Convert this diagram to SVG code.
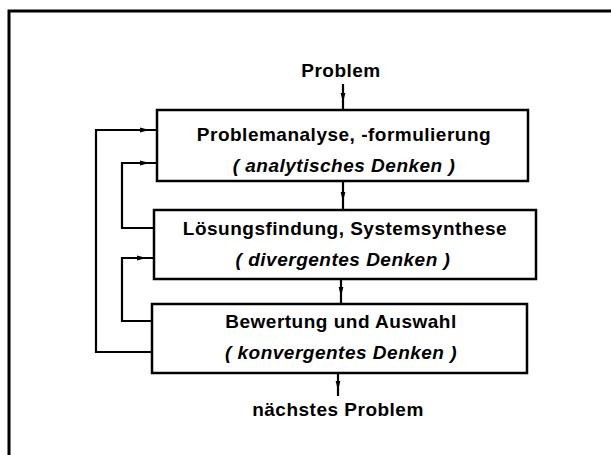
<svg xmlns="http://www.w3.org/2000/svg" xmlns:xlink="http://www.w3.org/1999/xlink" width="611" height="455" viewBox="0 0 611 455">
  <style>
    .frame { fill: none; stroke: #000; stroke-width: 3; }
    .box { fill: #fff; stroke: #000; stroke-width: 2.5; }
    .wire { fill: none; stroke: #000; stroke-width: 2.2; }
    .t { font-family: "Liberation Sans", Arial, sans-serif; font-weight: bold; font-size: 19px; letter-spacing: 0.5px; fill: #000; text-anchor: middle; }
    .i { font-style: italic; }
  </style>
  <defs>
    <!-- small arrowhead pointing along +x, placed on the lines -->
    <path id="ah" d="M-5,-2.4 L4.5,0 L-5,2.4 Z" fill="#000"/>
  </defs>

  <!-- page frame -->
  <path class="frame" d="M9,455 V11 H611"/>

  <g id="connectors">
    <!-- main flow -->
    <line class="wire" x1="343" y1="84" x2="343" y2="110"/>
    <use xlink:href="#ah" transform="translate(343,98) rotate(90)"/>
    <line class="wire" x1="343" y1="181" x2="343" y2="210"/>
    <use xlink:href="#ah" transform="translate(343,197) rotate(90)"/>
    <line class="wire" x1="341" y1="279" x2="341" y2="304"/>
    <use xlink:href="#ah" transform="translate(341,292) rotate(90)"/>
    <line class="wire" x1="338" y1="373" x2="338" y2="396"/>
    <use xlink:href="#ah" transform="translate(338,386) rotate(90)"/>
    <!-- feedback loops -->
    <path class="wire" d="M152,352 H96 V130 H157"/>
    <use xlink:href="#ah" transform="translate(145,130)"/>
    <path class="wire" d="M154,228 H122 V163 H157"/>
    <use xlink:href="#ah" transform="translate(145,163)"/>
    <path class="wire" d="M152,321 H122 V258 H154"/>
    <use xlink:href="#ah" transform="translate(142,258)"/>
  </g>

  <g id="start">
    <text class="t" x="341" y="77">Problem</text>
  </g>

  <g id="analyse">
    <rect class="box" x="157" y="110" width="371" height="71"/>
    <text class="t" x="344" y="141">Problemanalyse, -formulierung</text>
    <text class="t i" x="344" y="172">( analytisches Denken )</text>
  </g>

  <g id="synthese">
    <rect class="box" x="154" y="210" width="382" height="69"/>
    <text class="t" x="345" y="235">Lösungsfindung, Systemsynthese</text>
    <text class="t i" x="343" y="266">( divergentes Denken )</text>
  </g>

  <g id="auswahl">
    <rect class="box" x="152" y="304" width="375" height="69"/>
    <text class="t" x="341" y="328">Bewertung und Auswahl</text>
    <text class="t i" x="341" y="359">( konvergentes Denken )</text>
  </g>

  <g id="next">
    <text class="t" x="338" y="416">nächstes Problem</text>
  </g>
</svg>
